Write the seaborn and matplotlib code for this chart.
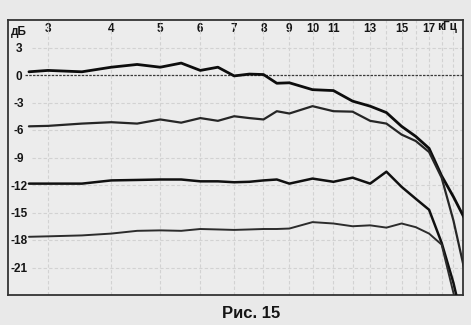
import numpy as np
import pandas as pd
import matplotlib
matplotlib.use("Agg")
import matplotlib.pyplot as plt
from matplotlib.ticker import FixedLocator, NullFormatter, NullLocator
import seaborn as sns

# ---- data ----
freq_khz = [2.75, 3, 3.5, 4, 4.5, 5, 5.5, 6, 6.5, 7, 7.5, 8, 8.5, 9,
            10, 11, 12, 13, 14, 15, 16, 17, 18, 19, 20]
curve_0db = [0.35, 0.5, 0.35, 0.85, 1.15, 0.85, 1.3, 0.5, 0.85, -0.1, 0.1, 0.05, -0.9, -0.85,
             -1.6, -1.7, -2.85, -3.4, -4.1, -5.6, -6.7, -8.0, -11.0, -13.3, -15.7]
curve_6db = [-5.6, -5.55, -5.3, -5.15, -5.3, -4.85, -5.2, -4.7, -5.0, -4.5, -4.7, -4.85, -3.95, -4.2,
             -3.4, -3.95, -4.0, -5.0, -5.3, -6.5, -7.2, -8.4, -11.2, -15.9, -21.4]
curve_12db = [-11.85, -11.85, -11.85, -11.5, -11.45, -11.4, -11.4, -11.6, -11.6, -11.7, -11.65, -11.5, -11.4, -11.85,
              -11.3, -11.65, -11.2, -11.85, -10.55, -12.2, -13.5, -14.7, -18.3, -22.7, -28.0]
curve_18db = [-17.65, -17.6, -17.5, -17.3, -17.0, -16.95, -17.0, -16.8, -16.85, -16.9, -16.85, -16.8, -16.8, -16.75,
              -16.05, -16.2, -16.5, -16.4, -16.65, -16.2, -16.6, -17.3, -18.5, -23.8, -28.0]

x_ticks = [3, 4, 5, 6, 7, 8, 9, 10, 11, 13, 15, 17]
x_tick_labels = ["3", "4", "5", "6", "7", "8", "9", "10", "11", "13", "15", "17"]
y_ticks = [3, 0, -3, -6, -9, -12, -15, -18, -21]
y_tick_labels = ["3", "0", "-3", "-6", "-9", "-12", "-15", "-18", "-21"]
grid_khz = list(range(3, 20))

sns.set_theme(style="white")
plt.rcParams['font.family'] = ['Liberation Sans', 'DejaVu Sans']

W, H = 471, 325
fig = plt.figure(figsize=(W / 100, H / 100), dpi=100, facecolor="#e9e9e9")
ax = fig.add_axes([8 / W, 1 - 295 / H, (463 - 8) / W, (295 - 20) / H])
ax.set_facecolor("#ececec")

ax.set_xscale("log")
ax.set_xlim(2.5, 19.84)
ax.set_ylim(-24, 6)

# grid
for f in grid_khz:
    ax.axvline(f, color="#d2d2d2", lw=0.8, ls=(0, (3, 2)), zorder=1)
for v in y_ticks:
    if v != 0:
        ax.axhline(v, xmin=(32 - 8) / 455, color="#d2d2d2", lw=0.8, ls=(0, (3, 2)), zorder=1)
ax.axhline(0, xmin=(25 - 8) / 455, color="#3a3a3a", lw=0.9, ls=(0, (2, 1)), zorder=2)

series = [
    (curve_0db, "#0d0d0d", 2.0),
    (curve_6db, "#262626", 1.6),
    (curve_12db, "#101010", 1.8),
    (curve_18db, "#2c2c2c", 1.4),
]
for vals, col, lw in series:
    df = pd.DataFrame({"f": freq_khz, "db": vals})
    sns.lineplot(data=df, x="f", y="db", ax=ax, color=col, lw=lw, sort=False,
                 estimator=None, zorder=3)

ax.set_xlabel("")
ax.set_ylabel("")

# x ticks at top, labels inside the frame
ax.xaxis.tick_top()
ax.xaxis.set_major_locator(FixedLocator(x_ticks))
ax.xaxis.set_minor_locator(NullLocator())
ax.xaxis.set_minor_formatter(NullFormatter())
ax.set_xticks(x_ticks)
ax.set_xticklabels(x_tick_labels, fontsize=8.5, fontweight="bold", color="#151515")
ax.tick_params(axis="x", which="both", length=0, pad=-10.5)

ax.set_yticks(y_ticks)
ax.set_yticklabels(y_tick_labels, fontsize=8.5, fontweight="bold", color="#151515", ha="center")
ax.tick_params(axis="y", length=0, pad=-8)

ax.text((437 - 8) / 455, 1 - (27 - 20) / 275, "кГц", transform=ax.transAxes,
        ha="left", va="center", fontsize=8.5, fontweight="bold", color="#151515")
ax.text((19 - 8) / 455, 1 - (32 - 20) / 275, "дБ", transform=ax.transAxes,
        ha="center", va="center", fontsize=8.5, fontweight="bold", color="#151515")

for s in ax.spines.values():
    s.set_visible(True)
    s.set_color("#333333")
    s.set_linewidth(1.3)

fig.text(251 / W, 1 - 313 / H, "Рис. 15", ha="center", va="center",
         fontsize=12, fontweight="bold", color="#151515")

fig.savefig("out.png", dpi=100, facecolor=fig.get_facecolor())
